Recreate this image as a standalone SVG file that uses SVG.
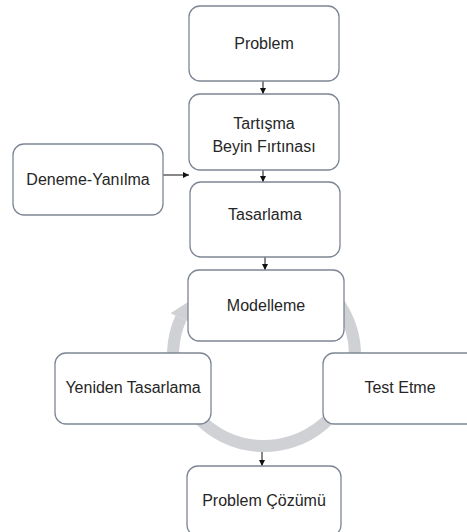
<svg xmlns="http://www.w3.org/2000/svg" width="467" height="532" viewBox="0 0 467 532">
<defs>
<style>
.box{fill:#fff;stroke:#7d8694;stroke-width:1.3}
.t{font-family:"Liberation Sans",Arial,sans-serif;font-size:16px;fill:#262626;text-anchor:middle}
.c{stroke:#111;stroke-width:1;fill:none;marker-end:url(#ah)}
</style>
<marker id="ah" viewBox="0 0 10 10" refX="10" refY="5" markerWidth="6" markerHeight="6" markerUnits="userSpaceOnUse" orient="auto">
<path d="M0,0 L10,5 L0,10 z" fill="#111"/>
</marker>
</defs>
<rect width="467" height="532" fill="#fff"/>
<g id="cycle-ring">
<path d="M309.5,276.2 A91,91 0 1 1 180.9,318" fill="none" stroke="#cfd1d5" stroke-width="12"/>
<polygon points="170.5,313.2 191.5,322.8 188,302" fill="#cfd1d5"/>
</g>
<g id="connectors">
<line class="c" x1="263" y1="81" x2="263" y2="94"/>
<line class="c" x1="263" y1="170" x2="263" y2="182"/>
<line class="c" x1="163" y1="175" x2="189" y2="175"/>
<line class="c" x1="265" y1="257" x2="265" y2="270"/>
<line class="c" x1="262" y1="452" x2="262" y2="466"/>
</g>
<g id="problem"><rect class="box" x="189" y="6" width="150" height="75" rx="11"/><text class="t" x="264" y="49">Problem</text></g>
<g id="tartisma"><rect class="box" x="189" y="94" width="150" height="76" rx="11"/><text class="t" x="264" y="129">Tartışma</text><text class="t" x="264" y="152">Beyin Fırtınası</text></g>
<g id="deneme"><rect class="box" x="13" y="144" width="150" height="71" rx="11"/><text class="t" x="88" y="185">Deneme-Yanılma</text></g>
<g id="tasarlama"><rect class="box" x="190" y="182" width="150" height="75" rx="11"/><text class="t" x="265" y="220">Tasarlama</text></g>
<g id="modelleme"><rect class="box" x="188" y="270" width="156" height="71" rx="11"/><text class="t" x="266" y="311">Modelleme</text></g>
<g id="yeniden"><rect class="box" x="55" y="353" width="156" height="71" rx="11"/><text class="t" x="133" y="393">Yeniden Tasarlama</text></g>
<g id="test"><rect class="box" x="323" y="353" width="156" height="71" rx="11"/><text class="t" x="400" y="393">Test Etme</text></g>
<g id="cozum"><rect class="box" x="187" y="466" width="154" height="70" rx="11"/><text class="t" x="264" y="506">Problem Çözümü</text></g>
</svg>
